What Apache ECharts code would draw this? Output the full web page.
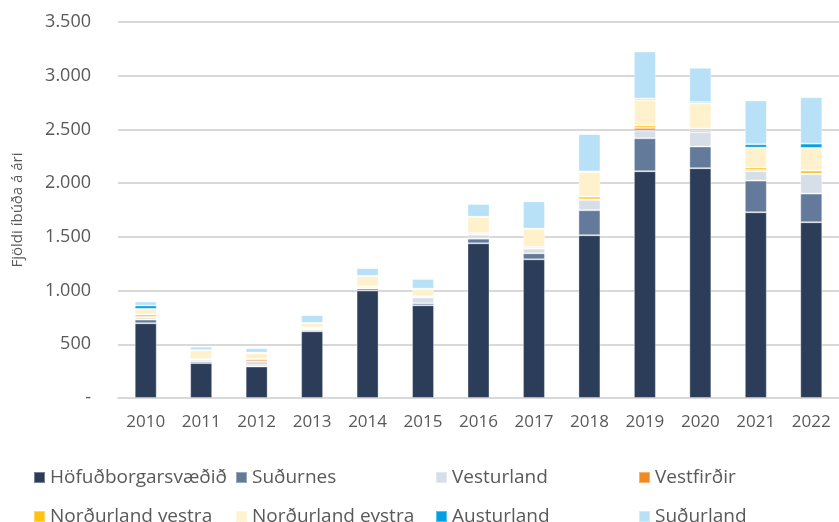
<!DOCTYPE html>
<html>
<head>
<meta charset="utf-8">
<script src="https://cdn.jsdelivr.net/npm/echarts@6/dist/echarts.min.js"></script>
<style>
  html, body { margin: 0; padding: 0; background: #fff; }
  #chart { width: 839px; height: 522px; }
</style>
</head>
<body>
<div id="chart"></div>
<script>
const years = ['2010', '2011', '2012', '2013', '2014', '2015', '2016', '2017', '2018', '2019', '2020', '2021', '2022']
const hofud = [696, 325, 293, 621, 1000, 863, 1440, 1291, 1515, 2111, 2139, 1729, 1636]
const sudurnes = [34, 16, 12, 12, 19, 19, 43, 56, 233, 307, 202, 295, 267]
const vesturland = [19, 16, 37, 9, 6, 53, 37, 43, 96, 71, 134, 87, 180]
const vestfirdir = [6, 2, 19, 3, 2, 3, 4, 4, 5, 25, 15, 12, 6]
const nvestra = [22, 3, 3, 9, 12, 9, 12, 12, 25, 22, 19, 22, 28]
const neystra = [53, 81, 53, 43, 93, 68, 149, 168, 230, 239, 233, 186, 211]
const austurland = [31, 3, 6, 3, 5, 3, 3, 3, 5, 12, 12, 31, 40]
const sudurland = [37, 31, 40, 71, 71, 90, 118, 254, 347, 438, 320, 407, 431]

const names = ['Höfuðborgarsvæðið', 'Suðurnes', 'Vesturland', 'Vestfirðir',
  'Norðurland vestra', 'Norðurland eystra', 'Austurland', 'Suðurland']
const values = [hofud, sudurnes, vesturland, vestfirdir, nvestra, neystra, austurland, sudurland]
const colors = ['#2b3d58', '#647a9a', '#d6dee8', '#f08a24', '#ffc20e', '#fff1cc', '#00a0e3', '#b8e0f7']

const font = 'Open Sans'
const textColor = '#595959'

// legend laid out as a 4x2 table
const legendLeft = [28, 230, 430, 633]
const legendTop = [463, 502]
const legends = names.map((n, i) => ({
  data: [n],
  left: legendLeft[i % 4],
  top: legendTop[Math.floor(i / 4)],
  icon: 'rect',
  itemWidth: 11,
  itemHeight: 11,
  itemGap: 0,
  textStyle: { fontFamily: font, fontSize: 19, color: textColor }
}))

const chart = echarts.init(document.getElementById('chart'))
chart.setOption({
  animation: false,
  color: colors,
  textStyle: { fontFamily: font },
  legend: legends,
  grid: { left: 118, top: 22, width: 727, bottom: 124, containLabel: false },
  xAxis: {
    type: 'category',
    data: years,
    axisLine: { lineStyle: { color: '#d9d9d9', width: 2 } },
    axisTick: { show: false },
    axisLabel: { fontFamily: font, fontSize: 17, color: textColor, margin: 16 }
  },
  yAxis: {
    type: 'value',
    min: 0,
    max: 3500,
    interval: 500,
    name: 'Fjöldi íbúða á ári',
    nameLocation: 'middle',
    nameGap: 93,
    nameTextStyle: { fontFamily: font, fontSize: 15, color: textColor },
    axisLine: { show: false },
    axisTick: { show: false },
    splitLine: { lineStyle: { color: '#d9d9d9', width: 2 } },
    axisLabel: {
      fontFamily: font,
      fontSize: 18,
      color: textColor,
      margin: 27,
      formatter: v => v === 0 ? '-' : String(v).replace(/\B(?=(\d{3})+(?!\d))/g, '.')
    }
  },
  series: names.map((n, i) => ({
    name: n,
    type: 'bar',
    stack: 'total',
    barWidth: 22,
    data: values[i],
    itemStyle: { borderColor: 'rgba(255,255,255,0.35)', borderWidth: 1 }
  }))
})
</script>
</body>
</html>
